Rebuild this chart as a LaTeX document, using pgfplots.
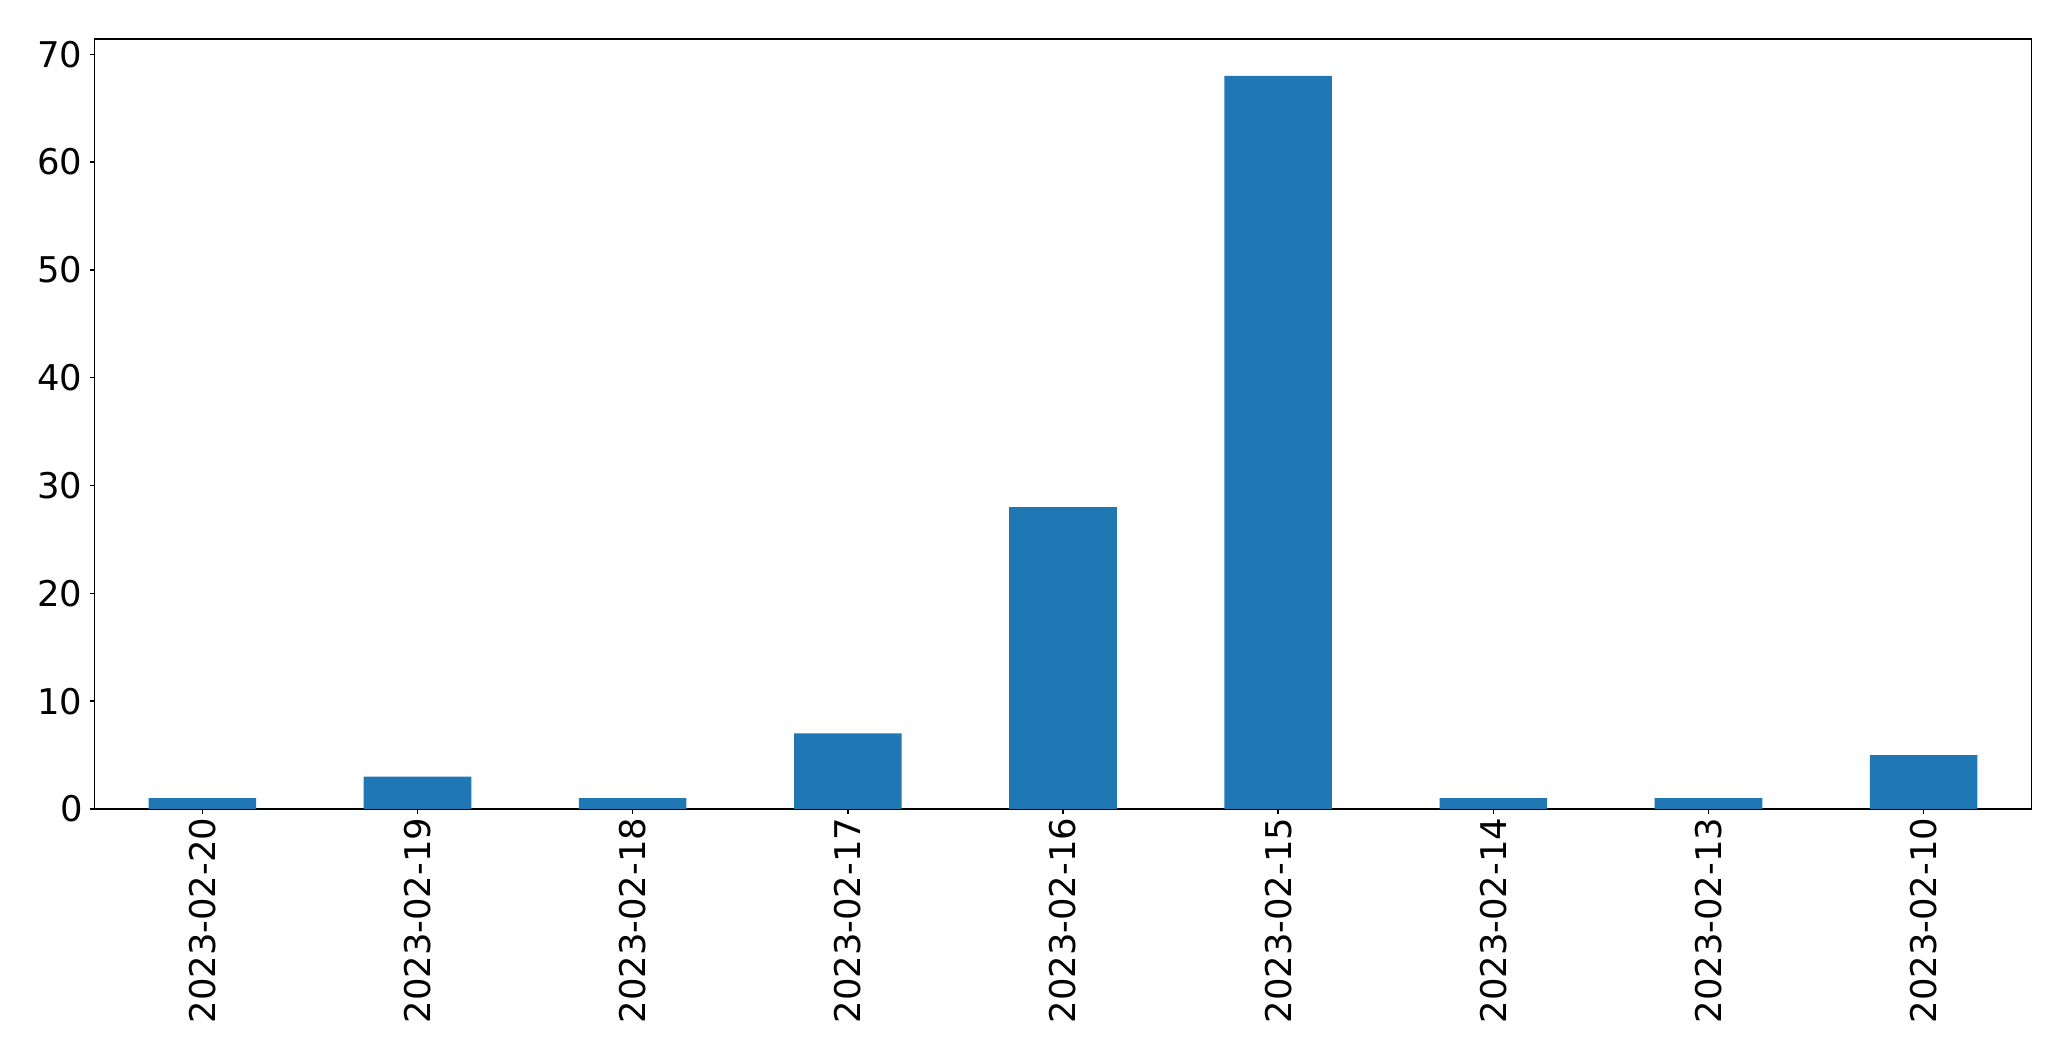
\documentclass[border=0pt]{standalone}
\usepackage{pgfplots}
\pgfplotsset{compat=1.18}
\usepackage{fontspec}
\setmainfont{DejaVu Sans}
\definecolor{mplblue}{HTML}{1F77B4}
\begin{document}
\begin{tikzpicture}
\begin{axis}[
  name=ax,
  scale only axis,
  width=968.3pt, height=384.9pt,
  xmin=-0.5, xmax=8.5, ymin=0, ymax=71.4,
  xtick={0,...,8},
  xticklabels={2023-02-20,2023-02-19,2023-02-18,2023-02-17,2023-02-16,2023-02-15,2023-02-14,2023-02-13,2023-02-10},
  ytick={0,10,20,30,40,50,60,70},
  tick align=outside,
  major tick length=2.6pt,
  tick style={black, line width=0.7pt},
  axis line style={line width=0.7pt},
  xtick pos=bottom, ytick pos=left,
  /pgf/number format/assume math mode=true,
  ticklabel style={font=\fontsize{17.7pt}{21pt}\selectfont},
  xticklabel style={rotate=90, anchor=east, inner sep=1.6pt},
  yticklabel style={anchor=east},
]
\addplot[ybar, bar width=0.5, fill=mplblue, draw=none] coordinates {
(0,1) (1,3) (2,1) (3,7) (4,28) (5,68) (6,1) (7,1) (8,5)
};
\end{axis}
\path ([xshift=-47.4pt,yshift=-125.8pt]ax.south west) rectangle ([xshift=19.9pt,yshift=19.6pt]ax.north east);
\end{tikzpicture}
\end{document}
